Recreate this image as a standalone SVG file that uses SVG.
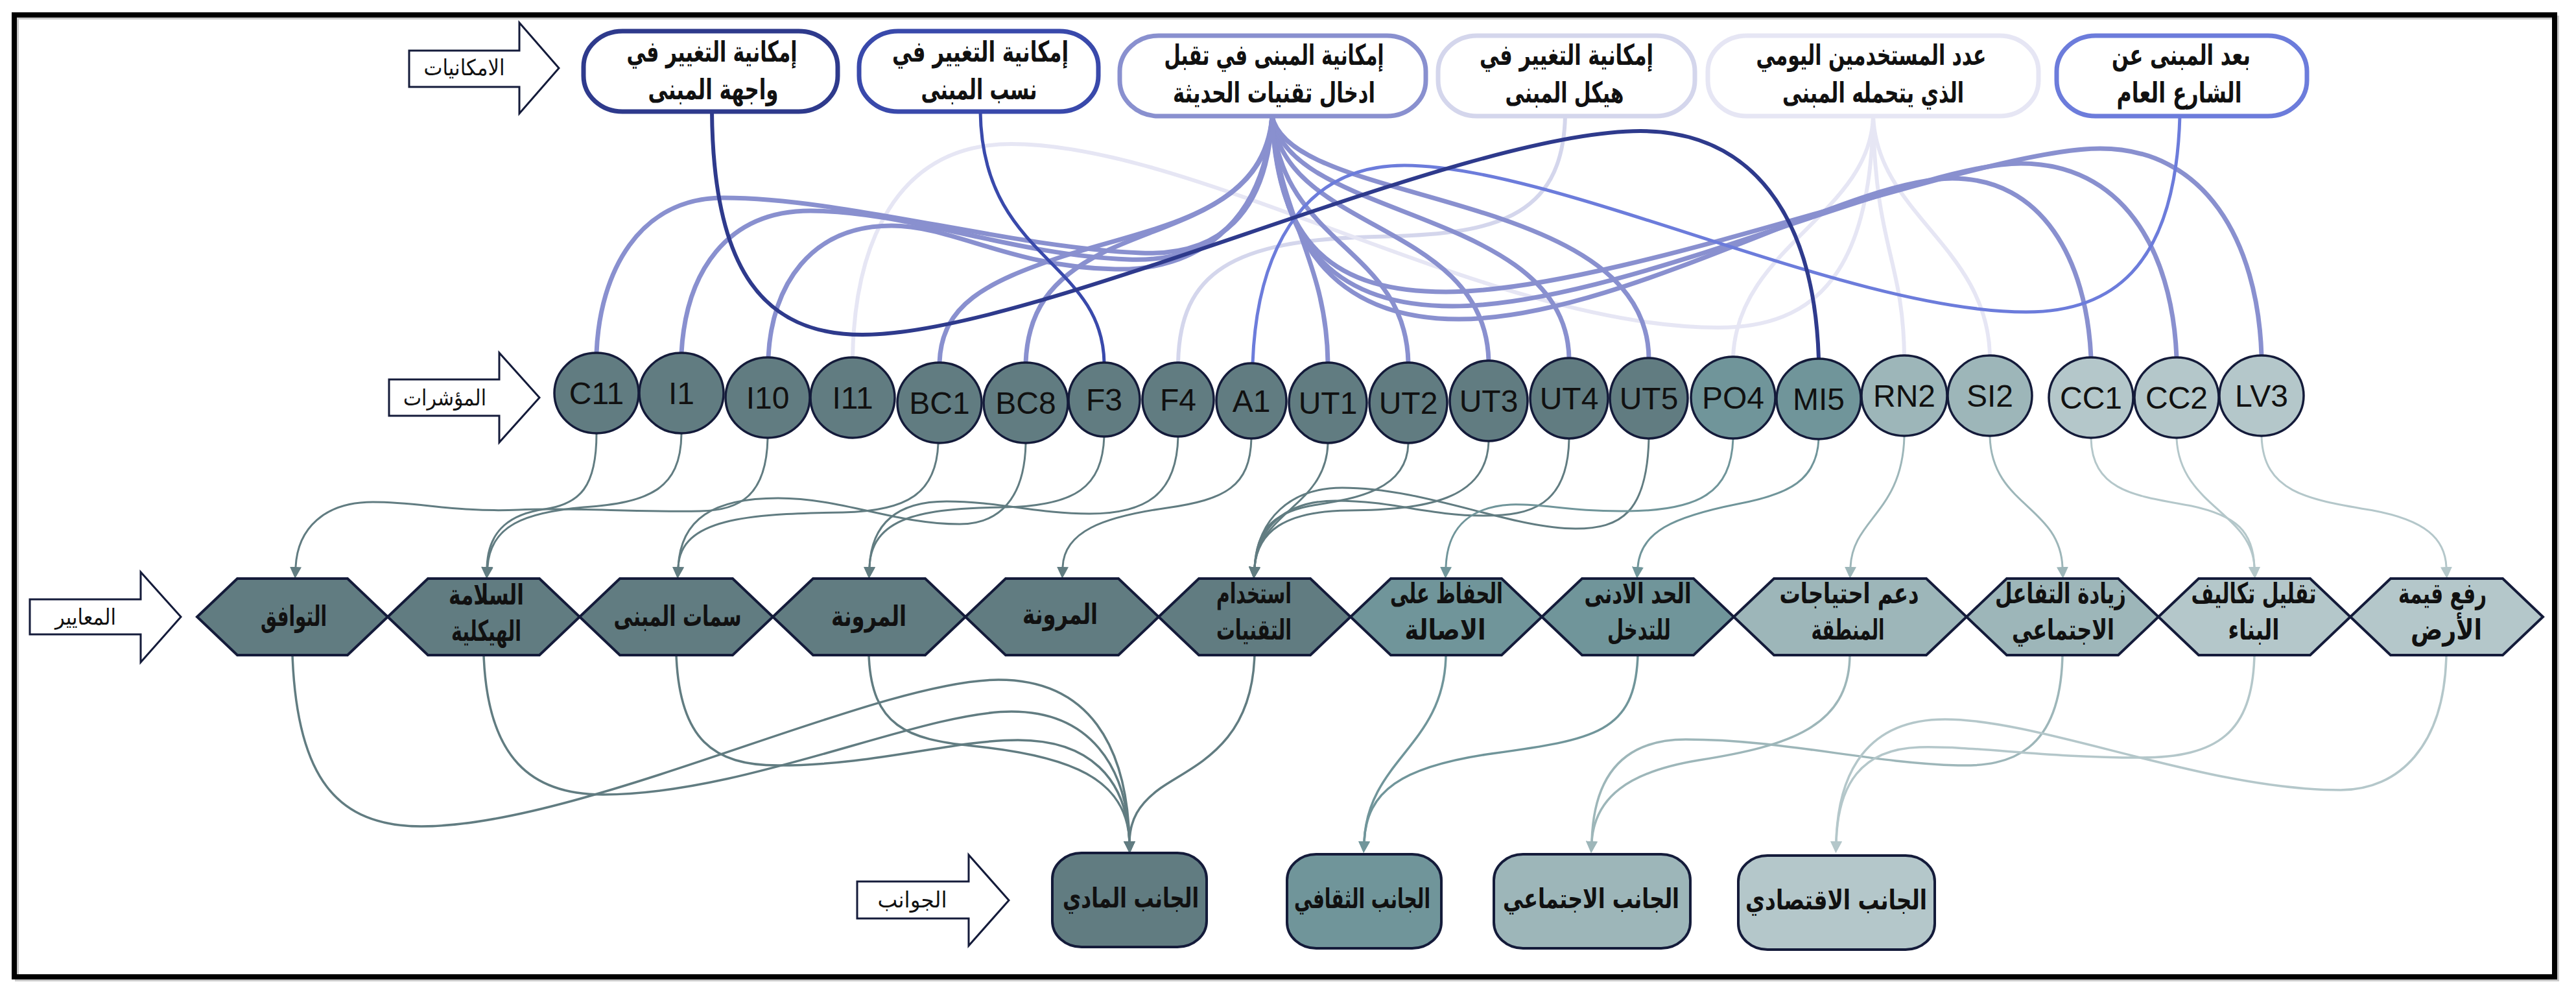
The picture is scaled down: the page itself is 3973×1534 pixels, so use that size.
<svg xmlns="http://www.w3.org/2000/svg" width="3973" height="1534" viewBox="0 0 3973 1534">
  <defs>
    <style>
      .frame { fill: none; stroke: #000; stroke-width: 8; }
      .tag { fill: #fff; stroke: #141B3A; stroke-width: 3; stroke-linejoin: miter; }
      .tagtxt { font-family: "DejaVu Sans", sans-serif; font-size: 34px; fill: #111; text-anchor: middle; }
      .opt { fill: #fff; stroke-width: 7; }
      .opttxt { font-family: "DejaVu Sans", sans-serif; font-weight: bold; font-size: 44px; fill: #111; text-anchor: middle; }
      .ind { stroke: #141B3A; stroke-width: 3.5; }
      .indtxt { font-family: "Liberation Sans", Arial, sans-serif; font-size: 48px; fill: #111; text-anchor: middle; }
      .crit { stroke: #141B3A; stroke-width: 4; stroke-linejoin: miter; }
      .crittxt { font-family: "DejaVu Sans", sans-serif; font-weight: bold; font-size: 44px; fill: #111; text-anchor: middle; }
      .asp { stroke: #141B3A; stroke-width: 4; }
      .asptxt { font-family: "DejaVu Sans", sans-serif; font-weight: bold; font-size: 42px; fill: #111; text-anchor: middle; }
      .c1 { fill: #617C81; }
      .c2 { fill: #70959A; }
      .c3 { fill: #9DB6B9; }
      .c4 { fill: #B4C7CA; }
      .e { fill: none; stroke-linecap: butt; }
      .l2 { stroke-width: 3; }
      .l3 { stroke-width: 3.5; }
      .s1 { stroke: #617C81; }
      .s2 { stroke: #70959A; }
      .s3 { stroke: #9DB6B9; }
      .s4 { stroke: #B4C7CA; }
    </style>
    <marker id="ah1" viewBox="0 0 18 18" refX="0" refY="9" markerWidth="18" markerHeight="18" markerUnits="userSpaceOnUse" orient="auto"><path d="M0,0 L18,9 L0,18 z" fill="#617C81"/></marker>
    <marker id="ah2" viewBox="0 0 18 18" refX="0" refY="9" markerWidth="18" markerHeight="18" markerUnits="userSpaceOnUse" orient="auto"><path d="M0,0 L18,9 L0,18 z" fill="#70959A"/></marker>
    <marker id="ah3" viewBox="0 0 18 18" refX="0" refY="9" markerWidth="18" markerHeight="18" markerUnits="userSpaceOnUse" orient="auto"><path d="M0,0 L18,9 L0,18 z" fill="#9DB6B9"/></marker>
    <marker id="ah4" viewBox="0 0 18 18" refX="0" refY="9" markerWidth="18" markerHeight="18" markerUnits="userSpaceOnUse" orient="auto"><path d="M0,0 L18,9 L0,18 z" fill="#B4C7CA"/></marker>
  </defs>

  <rect width="3973" height="1534" fill="#fff"/>
  <!-- outer frame with a soft drop line -->
  <rect x="26" y="27" width="3918" height="1483" fill="none" stroke="#c8c8c8" stroke-width="6"/>
  <rect class="frame" x="22" y="23" width="3918" height="1483"/>

  <!-- row labels -->
  <g id="tag-possibilities">
    <polygon class="tag" points="631,78 801,78 801,35 862,105 801,175 801,134 631,134"/>
    <text class="tagtxt" x="716" y="116" textLength="125" lengthAdjust="spacingAndGlyphs">الامكانيات</text>
  </g>
  <g id="tag-indicators">
    <polygon class="tag" points="600,585 770,585 770,544 832,613 770,682 770,641 600,641"/>
    <text class="tagtxt" x="686" y="625" textLength="128" lengthAdjust="spacingAndGlyphs">المؤشرات</text>
  </g>
  <g id="tag-criteria">
    <polygon class="tag" points="46,924 217,924 217,882 279,951 217,1021 217,978 46,978"/>
    <text class="tagtxt" x="132" y="963" textLength="94" lengthAdjust="spacingAndGlyphs">المعايير</text>
  </g>
  <g id="tag-aspects">
    <polygon class="tag" points="1322,1359 1494,1359 1494,1318 1556,1388 1494,1458 1494,1416 1322,1416"/>
    <text class="tagtxt" x="1407" y="1399" textLength="107" lengthAdjust="spacingAndGlyphs">الجوانب</text>
  </g>

  <!-- connectors -->
  <g id="connectors">
    <!-- possibilities to indicators -->
    <g id="links-top">
      <path class="e" stroke="#D4D6EC" stroke-width="6" d="M2414,179 C2410,340 2300,362 2120,365 C1900,370 1820,420 1817,559"/>
      <path class="e" stroke="#E6E6F4" stroke-width="6" d="M2889,179 C2885,420 2800,505 2650,505 C2300,505 1850,222 1560,222 C1380,222 1318,380 1315,551"/>
      <path class="e" stroke="#E6E6F4" stroke-width="6" d="M2889,179 C2885,330 2680,380 2673,550"/>
      <path class="e" stroke="#E6E6F4" stroke-width="6" d="M2889,179 C2892,380 2935,400 2937,548"/>
      <path class="e" stroke="#E6E6F4" stroke-width="6" d="M2889,179 C2895,330 3065,380 3069,548"/>
      <path class="e" stroke="#8990CF" stroke-width="7" d="M1962,179 C1955,330 1880,395 1760,390 C1560,382 1300,305 1116,305 C985,305 925,420 920,544"/>
      <path class="e" stroke="#8990CF" stroke-width="7" d="M1962,179 C1952,340 1860,405 1740,400 C1560,393 1400,325 1250,325 C1120,325 1058,420 1051,544"/>
      <path class="e" stroke="#8990CF" stroke-width="7" d="M1962,179 C1950,350 1840,418 1720,415 C1560,412 1470,348 1375,348 C1250,348 1190,440 1185,551"/>
      <path class="e" stroke="#8990CF" stroke-width="7" d="M1962,179 C1950,330 1780,350 1640,395 C1520,435 1452,470 1449,559"/>
      <path class="e" stroke="#8990CF" stroke-width="7" d="M1962,179 C1955,320 1800,340 1700,390 C1620,430 1585,480 1582,559"/>
      <path class="e" stroke="#8990CF" stroke-width="7" d="M1962,179 C1970,330 2046,400 2048,559"/>
      <path class="e" stroke="#8990CF" stroke-width="7" d="M1962,179 C1975,380 2168,380 2172,559"/>
      <path class="e" stroke="#8990CF" stroke-width="7" d="M1962,179 C1980,360 2290,340 2296,556"/>
      <path class="e" stroke="#8990CF" stroke-width="7" d="M1962,179 C1985,340 2415,320 2420,552"/>
      <path class="e" stroke="#8990CF" stroke-width="7" d="M1962,179 C1990,320 2540,290 2543,552"/>
      <path class="e" stroke="#8990CF" stroke-width="7" d="M1962,179 C1975,400 2080,492 2250,492 C2500,492 2850,275 3011,275 C3150,275 3218,400 3225,551"/>
      <path class="e" stroke="#8990CF" stroke-width="7" d="M1962,179 C1972,390 2070,472 2240,472 C2500,472 2950,252 3117,252 C3270,252 3350,380 3357,551"/>
      <path class="e" stroke="#8990CF" stroke-width="7" d="M1962,179 C1970,380 2060,450 2230,450 C2500,450 3050,229 3239,229 C3400,229 3482,370 3488,548"/>
      <path class="e" stroke="#6C7CDB" stroke-width="5" d="M3362,179 C3355,420 3250,481 3125,481 C2850,481 2400,255 2166,255 C2000,255 1938,400 1932,560"/>
      <path class="e" stroke="#3949AB" stroke-width="5" d="M1512,172 C1515,400 1700,400 1703,559"/>
      <path class="e" stroke="#2E3A8C" stroke-width="6" d="M1098,172 C1100,420 1180,516 1330,516 C1600,516 2250,202 2530,202 C2700,202 2798,330 2805,553"/>
    </g>

    <!-- indicators to criteria -->
    <g id="links-mid">
      <path class="e l2 s1" marker-end="url(#ah1)" d="M920,668 C920,750 895,777 840,785 C790,792 753,815 751,874"/>
      <path class="e l2 s1" marker-end="url(#ah1)" d="M1051,669 C1050,755 1000,775 900,782 C810,790 756,810 752,874"/>
      <path class="e l2 s1" marker-end="url(#ah1)" d="M1184,676 C1182,765 1140,787 1080,788 C980,790 880,782 800,786 C700,790 650,774 575,774 C500,774 459,815 456,874"/>
      <path class="e l2 s1" marker-end="url(#ah1)" d="M1447,684 C1444,760 1400,788 1300,790 C1150,792 1050,800 1046,874"/>
      <path class="e l2 s1" marker-end="url(#ah1)" d="M1582,684 C1580,770 1540,808 1480,808 C1380,808 1300,768 1200,768 C1100,768 1050,800 1046,874"/>
      <path class="e l2 s1" marker-end="url(#ah1)" d="M1703,673 C1700,750 1660,780 1550,782 C1440,784 1344,790 1341,874"/>
      <path class="e l2 s1" marker-end="url(#ah1)" d="M1817,673 C1815,760 1770,792 1680,792 C1600,792 1540,773 1460,773 C1380,773 1344,810 1341,874"/>
      <path class="e l2 s1" marker-end="url(#ah1)" d="M1930,676 C1928,750 1890,770 1800,783 C1700,797 1641,820 1639,874"/>
      <path class="e l2 s1" marker-end="url(#ah1)" d="M2048,684 C2045,780 1940,790 1935,874"/>
      <path class="e l2 s1" marker-end="url(#ah1)" d="M2172,684 C2170,760 2080,770 2020,780 C1960,792 1938,820 1935,874"/>
      <path class="e l2 s1" marker-end="url(#ah1)" d="M2296,681 C2293,770 2200,786 2080,787 C1980,788 1940,820 1935,874"/>
      <path class="e l2 s1" marker-end="url(#ah1)" d="M2420,677 C2418,780 2360,795 2290,795 C2200,795 2150,772 2060,772 C1980,772 1940,815 1935,874"/>
      <path class="e l2 s1" marker-end="url(#ah1)" d="M2543,677 C2540,790 2500,815 2430,815 C2330,815 2200,752 2070,752 C1990,752 1940,800 1935,874"/>
      <path class="e l2 s2" marker-end="url(#ah2)" d="M2673,676 C2670,760 2620,787 2510,788 C2420,789 2380,776 2330,778 C2260,782 2232,820 2230,874"/>
      <path class="e l2 s2" marker-end="url(#ah2)" d="M2805,677 C2802,740 2760,762 2680,777 C2580,797 2530,820 2526,874"/>
      <path class="e l2 s3" marker-end="url(#ah3)" d="M2937,673 C2934,790 2857,800 2854,874"/>
      <path class="e l2 s3" marker-end="url(#ah3)" d="M3069,673 C3072,780 3177,780 3181,874"/>
      <path class="e l2 s4" marker-end="url(#ah4)" d="M3225,676 C3227,760 3300,765 3380,780 C3450,795 3475,820 3477,874"/>
      <path class="e l2 s4" marker-end="url(#ah4)" d="M3357,676 C3362,780 3473,790 3477,874"/>
      <path class="e l2 s4" marker-end="url(#ah4)" d="M3488,673 C3491,760 3560,770 3660,787 C3740,802 3771,830 3773,874"/>
    </g>

    <!-- criteria to aspects -->
    <g id="links-low">
      <path class="e l3 s1" marker-end="url(#ah1)" d="M451,1010 C458,1200 520,1274 650,1274 C900,1274 1350,1048 1540,1048 C1680,1048 1738,1150 1742,1297"/>
      <path class="e l3 s1" marker-end="url(#ah1)" d="M746,1010 C752,1170 820,1225 930,1225 C1150,1225 1420,1097 1560,1097 C1680,1097 1738,1180 1742,1297"/>
      <path class="e l3 s1" marker-end="url(#ah1)" d="M1043,1010 C1048,1140 1100,1180 1200,1180 C1350,1180 1470,1141 1570,1141 C1680,1141 1737,1200 1742,1297"/>
      <path class="e l3 s1" marker-end="url(#ah1)" d="M1340,1010 C1344,1120 1400,1140 1500,1150 C1650,1165 1738,1200 1742,1297"/>
      <path class="e l3 s1" marker-end="url(#ah1)" d="M1935,1007 C1932,1150 1840,1180 1790,1215 C1755,1240 1743,1265 1742,1297"/>
      <path class="e l3 s2" marker-end="url(#ah2)" d="M2230,1010 C2228,1150 2110,1170 2104,1297"/>
      <path class="e l3 s2" marker-end="url(#ah2)" d="M2526,1010 C2522,1130 2460,1140 2300,1162 C2160,1182 2108,1220 2104,1297"/>
      <path class="e l3 s3" marker-end="url(#ah3)" d="M2853,1010 C2852,1120 2760,1150 2620,1172 C2510,1190 2460,1230 2455,1297"/>
      <path class="e l3 s3" marker-end="url(#ah3)" d="M3181,1010 C3178,1160 3100,1182 3020,1180 C2880,1176 2750,1140 2600,1140 C2500,1140 2458,1200 2455,1297"/>
      <path class="e l3 s4" marker-end="url(#ah4)" d="M3477,1010 C3474,1130 3420,1168 3300,1168 C3150,1168 3050,1150 2960,1152 C2870,1155 2835,1210 2832,1297"/>
      <path class="e l3 s4" marker-end="url(#ah4)" d="M3773,1010 C3770,1150 3700,1218 3610,1218 C3400,1218 3150,1109 3000,1109 C2880,1109 2835,1190 2832,1297"/>
    </g>
  </g>

  <!-- possibilities -->
  <g id="opt-facade">
    <rect class="opt" x="900" y="48" width="392" height="124" rx="60" ry="55" stroke="#2E3A8C"/>
    <text class="opttxt" x="1098" y="95" textLength="263" lengthAdjust="spacingAndGlyphs">إمكانية التغيير في</text>
    <text class="opttxt" x="1100" y="153" textLength="201" lengthAdjust="spacingAndGlyphs">واجهة المبنى</text>
  </g>
  <g id="opt-proportion">
    <rect class="opt" x="1325" y="48" width="369" height="124" rx="60" ry="55" stroke="#3949AB"/>
    <text class="opttxt" x="1512" y="95" textLength="272" lengthAdjust="spacingAndGlyphs">إمكانية التغيير في</text>
    <text class="opttxt" x="1510" y="153" textLength="179" lengthAdjust="spacingAndGlyphs">نسب المبنى</text>
  </g>
  <g id="opt-technology">
    <rect class="opt" x="1727" y="55" width="472" height="124" rx="60" ry="55" stroke="#8990CF"/>
    <text class="opttxt" x="1965" y="100" textLength="339" lengthAdjust="spacingAndGlyphs">إمكانية المبنى في تقبل</text>
    <text class="opttxt" x="1965" y="158" textLength="312" lengthAdjust="spacingAndGlyphs">ادخال تقنيات الحديثة</text>
  </g>
  <g id="opt-structure">
    <rect class="opt" x="2218" y="55" width="396" height="124" rx="60" ry="55" stroke="#D4D6EC"/>
    <text class="opttxt" x="2416" y="100" textLength="268" lengthAdjust="spacingAndGlyphs">إمكانية التغيير في</text>
    <text class="opttxt" x="2413" y="158" textLength="183" lengthAdjust="spacingAndGlyphs">هيكل المبنى</text>
  </g>
  <g id="opt-users">
    <rect class="opt" x="2634" y="55" width="510" height="124" rx="60" ry="55" stroke="#E6E6F4"/>
    <text class="opttxt" x="2886" y="100" textLength="355" lengthAdjust="spacingAndGlyphs">عدد المستخدمين اليومي</text>
    <text class="opttxt" x="2889" y="158" textLength="280" lengthAdjust="spacingAndGlyphs">الذي يتحمله المبنى</text>
  </g>
  <g id="opt-street">
    <rect class="opt" x="3172" y="55" width="386" height="124" rx="60" ry="55" stroke="#6C7CDB"/>
    <text class="opttxt" x="3364" y="100" textLength="214" lengthAdjust="spacingAndGlyphs">بعد المبنى عن</text>
    <text class="opttxt" x="3361" y="158" textLength="193" lengthAdjust="spacingAndGlyphs">الشارع العام</text>
  </g>

  <!-- indicators -->
  <g id="ind-C11"><ellipse class="ind c1" cx="920" cy="606" rx="65" ry="62"/><text class="indtxt" x="920" y="623">C11</text></g>
  <g id="ind-I1"><ellipse class="ind c1" cx="1051" cy="606" rx="65" ry="62"/><text class="indtxt" x="1051" y="623">I1</text></g>
  <g id="ind-I10"><ellipse class="ind c1" cx="1184" cy="613" rx="65" ry="62"/><text class="indtxt" x="1184" y="630">I10</text></g>
  <g id="ind-I11"><ellipse class="ind c1" cx="1315" cy="613" rx="65" ry="62"/><text class="indtxt" x="1315" y="630">I11</text></g>
  <g id="ind-BC1"><ellipse class="ind c1" cx="1449" cy="621" rx="65" ry="62"/><text class="indtxt" x="1449" y="638">BC1</text></g>
  <g id="ind-BC8"><ellipse class="ind c1" cx="1582" cy="621" rx="65" ry="62"/><text class="indtxt" x="1582" y="638">BC8</text></g>
  <g id="ind-F3"><ellipse class="ind c1" cx="1703" cy="616" rx="55" ry="57"/><text class="indtxt" x="1703" y="633">F3</text></g>
  <g id="ind-F4"><ellipse class="ind c1" cx="1817" cy="616" rx="55" ry="57"/><text class="indtxt" x="1817" y="633">F4</text></g>
  <g id="ind-A1"><ellipse class="ind c1" cx="1930" cy="618" rx="54" ry="58"/><text class="indtxt" x="1930" y="635">A1</text></g>
  <g id="ind-UT1"><ellipse class="ind c1" cx="2048" cy="621" rx="60" ry="62"/><text class="indtxt" x="2048" y="638">UT1</text></g>
  <g id="ind-UT2"><ellipse class="ind c1" cx="2172" cy="621" rx="60" ry="62"/><text class="indtxt" x="2172" y="638">UT2</text></g>
  <g id="ind-UT3"><ellipse class="ind c1" cx="2296" cy="618" rx="60" ry="62"/><text class="indtxt" x="2296" y="635">UT3</text></g>
  <g id="ind-UT4"><ellipse class="ind c1" cx="2420" cy="614" rx="60" ry="62"/><text class="indtxt" x="2420" y="631">UT4</text></g>
  <g id="ind-UT5"><ellipse class="ind c1" cx="2543" cy="614" rx="60" ry="62"/><text class="indtxt" x="2543" y="631">UT5</text></g>
  <g id="ind-PO4"><ellipse class="ind c2" cx="2673" cy="613" rx="65" ry="63"/><text class="indtxt" x="2673" y="630">PO4</text></g>
  <g id="ind-MI5"><ellipse class="ind c2" cx="2805" cy="615" rx="65" ry="62"/><text class="indtxt" x="2805" y="632">MI5</text></g>
  <g id="ind-RN2"><ellipse class="ind c3" cx="2937" cy="610" rx="66" ry="62"/><text class="indtxt" x="2937" y="627">RN2</text></g>
  <g id="ind-SI2"><ellipse class="ind c3" cx="3069" cy="610" rx="65" ry="62"/><text class="indtxt" x="3069" y="627">SI2</text></g>
  <g id="ind-CC1"><ellipse class="ind c4" cx="3225" cy="613" rx="65" ry="62"/><text class="indtxt" x="3225" y="630">CC1</text></g>
  <g id="ind-CC2"><ellipse class="ind c4" cx="3357" cy="613" rx="65" ry="62"/><text class="indtxt" x="3357" y="630">CC2</text></g>
  <g id="ind-LV3"><ellipse class="ind c4" cx="3488" cy="610" rx="65" ry="62"/><text class="indtxt" x="3488" y="627">LV3</text></g>

  <!-- criteria -->
  <g id="crit-compat">
    <polygon class="crit c1" points="304,951 366,892 536,892 598,951 536,1010 366,1010"/>
    <text class="crittxt" x="453" y="965" textLength="102" lengthAdjust="spacingAndGlyphs">التوافق</text>
  </g>
  <g id="crit-structural">
    <polygon class="crit c1" points="598,951 660,892 832,892 894,951 832,1010 660,1010"/>
    <text class="crittxt" x="750" y="932" textLength="116" lengthAdjust="spacingAndGlyphs">السلامة</text>
    <text class="crittxt" x="750" y="988" textLength="108" lengthAdjust="spacingAndGlyphs">الهيكلية</text>
  </g>
  <g id="crit-features">
    <polygon class="crit c1" points="894,951 956,892 1130,892 1192,951 1130,1010 956,1010"/>
    <text class="crittxt" x="1045" y="965" textLength="197" lengthAdjust="spacingAndGlyphs">سمات المبنى</text>
  </g>
  <g id="crit-flex-a">
    <polygon class="crit c1" points="1192,951 1254,892 1427,892 1489,951 1427,1010 1254,1010"/>
    <text class="crittxt" x="1340" y="965" textLength="116" lengthAdjust="spacingAndGlyphs">المرونة</text>
  </g>
  <g id="crit-flex-b">
    <polygon class="crit c1" points="1489,951 1551,892 1725,892 1787,951 1725,1010 1551,1010"/>
    <text class="crittxt" x="1635" y="962" textLength="116" lengthAdjust="spacingAndGlyphs">المرونة</text>
  </g>
  <g id="crit-tech">
    <polygon class="crit c1" points="1787,951 1849,892 2021,892 2083,951 2021,1010 1849,1010"/>
    <text class="crittxt" x="1934" y="930" textLength="116" lengthAdjust="spacingAndGlyphs">استخدام</text>
    <text class="crittxt" x="1934" y="986" textLength="116" lengthAdjust="spacingAndGlyphs">التقنيات</text>
  </g>
  <g id="crit-authenticity">
    <polygon class="crit c2" points="2083,951 2145,892 2316,892 2378,951 2316,1010 2145,1010"/>
    <text class="crittxt" x="2231" y="930" textLength="174" lengthAdjust="spacingAndGlyphs">الحفاظ على</text>
    <text class="crittxt" x="2229" y="986" textLength="125" lengthAdjust="spacingAndGlyphs">الاصالة</text>
  </g>
  <g id="crit-intervention">
    <polygon class="crit c2" points="2378,951 2440,892 2612,892 2674,951 2612,1010 2440,1010"/>
    <text class="crittxt" x="2526" y="930" textLength="165" lengthAdjust="spacingAndGlyphs">الحد الادنى</text>
    <text class="crittxt" x="2528" y="986" textLength="98" lengthAdjust="spacingAndGlyphs">للتدخل</text>
  </g>
  <g id="crit-needs">
    <polygon class="crit c3" points="2674,951 2736,892 2971,892 3033,951 2971,1010 2736,1010"/>
    <text class="crittxt" x="2852" y="930" textLength="215" lengthAdjust="spacingAndGlyphs">دعم احتياجات</text>
    <text class="crittxt" x="2850" y="986" textLength="113" lengthAdjust="spacingAndGlyphs">المنطقة</text>
  </g>
  <g id="crit-social">
    <polygon class="crit c3" points="3033,951 3095,892 3267,892 3329,951 3267,1010 3095,1010"/>
    <text class="crittxt" x="3178" y="930" textLength="202" lengthAdjust="spacingAndGlyphs">زيادة التفاعل</text>
    <text class="crittxt" x="3182" y="986" textLength="158" lengthAdjust="spacingAndGlyphs">الاجتماعي</text>
  </g>
  <g id="crit-cost">
    <polygon class="crit c4" points="3329,951 3391,892 3563,892 3625,951 3563,1010 3391,1010"/>
    <text class="crittxt" x="3476" y="930" textLength="193" lengthAdjust="spacingAndGlyphs">تقليل تكاليف</text>
    <text class="crittxt" x="3476" y="986" textLength="79" lengthAdjust="spacingAndGlyphs">البناء</text>
  </g>
  <g id="crit-land">
    <polygon class="crit c4" points="3625,951 3687,892 3860,892 3922,951 3860,1010 3687,1010"/>
    <text class="crittxt" x="3767" y="930" textLength="136" lengthAdjust="spacingAndGlyphs">رفع قيمة</text>
    <text class="crittxt" x="3773" y="986" textLength="110" lengthAdjust="spacingAndGlyphs">الأرض</text>
  </g>

  <!-- aspects -->
  <g id="asp-physical">
    <rect class="asp c1" x="1623" y="1315" width="238" height="145" rx="45" ry="40"/>
    <text class="asptxt" x="1744" y="1399" textLength="210" lengthAdjust="spacingAndGlyphs">الجانب المادي</text>
  </g>
  <g id="asp-cultural">
    <rect class="asp c2" x="1985" y="1317" width="238" height="145" rx="45" ry="40"/>
    <text class="asptxt" x="2101" y="1400" textLength="210" lengthAdjust="spacingAndGlyphs">الجانب الثقافي</text>
  </g>
  <g id="asp-social">
    <rect class="asp c3" x="2304" y="1317" width="303" height="145" rx="45" ry="40"/>
    <text class="asptxt" x="2454" y="1400" textLength="272" lengthAdjust="spacingAndGlyphs">الجانب الاجتماعي</text>
  </g>
  <g id="asp-economic">
    <rect class="asp c4" x="2681" y="1319" width="303" height="145" rx="45" ry="40"/>
    <text class="asptxt" x="2832" y="1402" textLength="280" lengthAdjust="spacingAndGlyphs">الجانب الاقتصادي</text>
  </g>
</svg>
